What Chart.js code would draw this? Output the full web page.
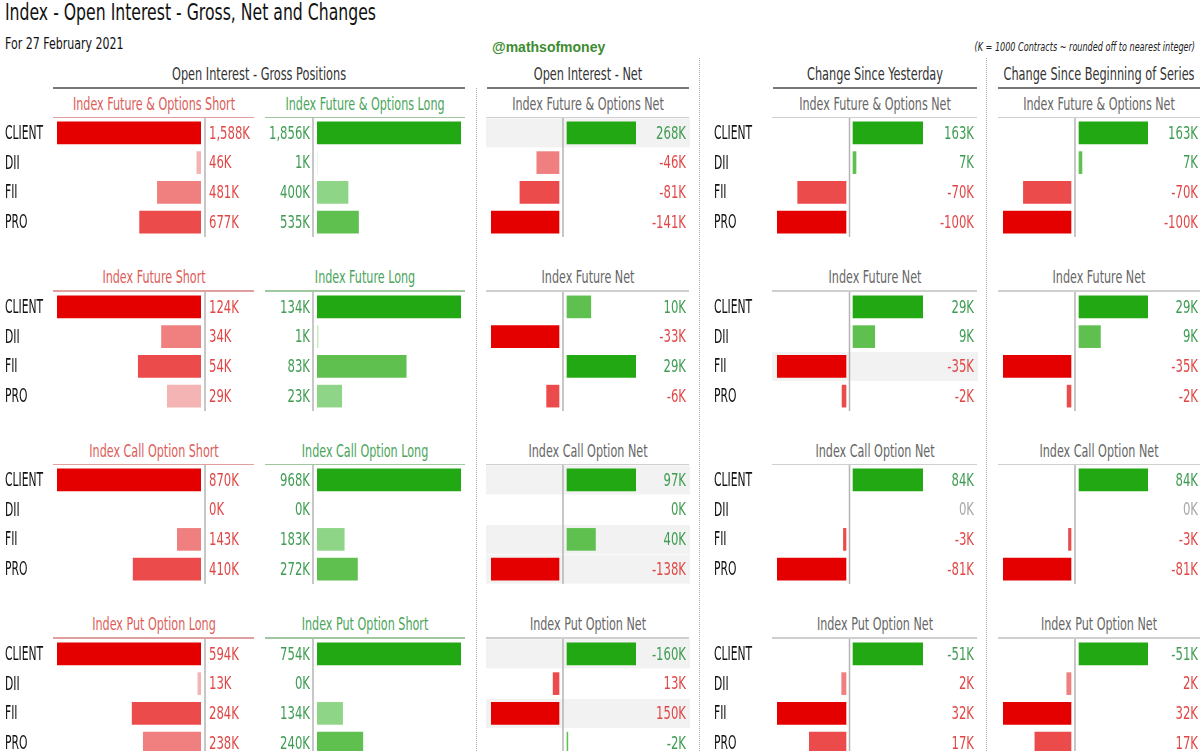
<!DOCTYPE html>
<html>
<head>
<meta charset="utf-8">
<script src="https://cdn.jsdelivr.net/npm/chart.js@4.4.1/dist/chart.umd.min.js"></script>
<style>
  body { margin: 0; width: 1200px; height: 751px; overflow: hidden; position: relative; background: #fff;
         font-family: "Liberation Sans Narrow", "DejaVu Sans Condensed", sans-serif; }
  .txt { position: absolute; white-space: nowrap; transform-origin: 0 0; }
  .ln { position: absolute; }
  canvas { position: absolute; }
</style>
</head>
<body>
<script>
const categories = ["CLIENT", "DII", "FII", "PRO"];

// gross positions (thousand contracts)
const foShort = [1588, 46, 481, 677];
const foLong = [1856, 1, 400, 535];
const futShort = [124, 34, 54, 29];
const futLong = [134, 1, 83, 23];
const callShort = [870, 0, 143, 410];
const callLong = [968, 0, 183, 272];
const putLong = [594, 13, 284, 238];
const putShort = [754, 0, 134, 240];

// net positions
const foNet = [268, -46, -81, -141];
const futNet = [10, -33, 29, -6];
const callNet = [97, 0, 40, -138];
const putNet = [-160, 13, 150, -2];

// change since yesterday
const foChgDay = [163, 7, -70, -100];
const futChgDay = [29, 9, -35, -2];
const callChgDay = [84, 0, -3, -81];
const putChgDay = [-51, 2, 32, 17];

// change since beginning of series
const foChgSeries = [163, 7, -70, -100];
const futChgSeries = [29, 9, -35, -2];
const callChgSeries = [84, 0, -3, -81];
const putChgSeries = [-51, 2, 32, 17];

const bearTitles = ["Index Future & Options Short", "Index Future Short", "Index Call Option Short", "Index Put Option Long"];
const bullTitles = ["Index Future & Options Long", "Index Future Long", "Index Call Option Long", "Index Put Option Short"];
const netTitles = ["Index Future & Options Net", "Index Future Net", "Index Call Option Net", "Index Put Option Net"];

// rows shaded grey in the reference
const netHighlight = [[0], [], [0, 2, 3], [0, 2]];
const chgDayHighlight = [[], [2], [], []];

const bearGross = [foShort, futShort, callShort, putLong];
const bullGross = [foLong, futLong, callLong, putShort];
const netVals = [foNet, futNet, callNet, putNet];
const chgDayVals = [foChgDay, futChgDay, callChgDay, putChgDay];
const chgSeriesVals = [foChgSeries, futChgSeries, callChgSeries, putChgSeries];
const invertSign = [false, false, false, true]; // put net: negative is bullish

const RED = ["#e50000", "#eb4b4b", "#f08080", "#f5b4b4"];
const GREEN = ["#22a812", "#5fc050", "#8fd587", "#c4eabe"];
const TXT_RED = "#e04848", TXT_GREEN = "#3f9c52", TXT_GRAY = "#a8a8a8";
const FONT = '"Liberation Sans Narrow", "DejaVu Sans Condensed", sans-serif';
const GROUP_DY = 173.5;
const AREA_H = 119;

function text(str, x, y, o) {
  const d = document.createElement("div");
  d.className = "txt";
  d.textContent = str;
  const size = o.size || 17;
  const align = o.align || "center";
  const shift = align === "center" ? "translateX(-50%)" : align === "right" ? "translateX(-100%)" : "";
  d.style.cssText = `left:${x}px;top:${y - 0.49 * size}px;font-size:${size}px;line-height:${size}px;` +
    `color:${o.color || "#333"};transform:scaleX(${o.sx || 0.74}) ${shift};` +
    (o.family ? `font-family:${o.family};` : "") + (o.weight ? `font-weight:${o.weight};` : "") +
    (o.italic ? "font-style:italic;" : "");
  document.body.appendChild(d);
}

function hline(x1, x2, y, color, h) {
  const d = document.createElement("div");
  d.className = "ln";
  d.style.cssText = `left:${x1}px;top:${y}px;width:${x2 - x1}px;height:${h}px;background:${color};`;
  document.body.appendChild(d);
}

function vdots(x, y1, y2) {
  const d = document.createElement("div");
  d.className = "ln";
  d.style.cssText = `left:${x}px;top:${y1}px;height:${y2 - y1}px;border-left:1.5px dotted #aaa;`;
  document.body.appendChild(d);
}

// darkest shade for the largest magnitude, lighter down the ranking
function shades(vals, palette) {
  const out = vals.map(() => "rgba(0,0,0,0)");
  vals.map((v, i) => i)
    .filter(i => vals[i] != null && vals[i] !== 0)
    .sort((a, b) => Math.abs(vals[b]) - Math.abs(vals[a]))
    .forEach((i, r) => { out[i] = palette[Math.min(r, palette.length - 1)]; });
  return out;
}

function fmt(v) {
  return v.toLocaleString("en-US") + "K";
}

function squeezed(ctx, str, x, y, align, sx) {
  ctx.save();
  ctx.translate(x, y);
  ctx.scale(sx, 1);
  ctx.textAlign = align;
  ctx.fillText(str, 0, 0);
  ctx.restore();
}

function decor(spec) {
  return {
    id: "decor",
    beforeDatasetsDraw(chart) {
      const { ctx, scales: { y } } = chart;
      (spec.highlight || []).forEach(i => {
        const yc = y.getPixelForValue(i);
        ctx.fillStyle = "#f2f2f2";
        ctx.fillRect(spec.bandLeft, yc - 14.5, chart.width - spec.bandLeft, 29);
      });
    },
    afterDatasetsDraw(chart) {
      const { ctx, chartArea, scales: { y } } = chart;
      ctx.save();
      ctx.strokeStyle = "#b4b4b4";
      ctx.lineWidth = 1.5;
      ctx.beginPath();
      ctx.moveTo(spec.axisX, chartArea.top);
      ctx.lineTo(spec.axisX, chartArea.bottom);
      ctx.stroke();
      ctx.textBaseline = "middle";
      spec.values.forEach((v, i) => {
        const yc = y.getPixelForValue(i) + 1;
        ctx.font = `18px ${FONT}`;
        ctx.fillStyle = spec.labelColor(v);
        squeezed(ctx, fmt(v), spec.labelX, yc, spec.labelAlign, 0.72);
        if (spec.catX != null) {
          ctx.font = `19px ${FONT}`;
          ctx.fillStyle = "#111";
          squeezed(ctx, categories[i], spec.catX, yc, "left", 0.63);
        }
      });
      ctx.restore();
    }
  };
}

function makeCanvas(left, top, width) {
  const cv = document.createElement("canvas");
  cv.width = width;
  cv.height = AREA_H;
  cv.style.left = left + "px";
  cv.style.top = top + "px";
  cv.style.width = width + "px";
  cv.style.height = AREA_H + "px";
  document.body.appendChild(cv);
  return cv;
}

const baseOptions = (padL, padR) => ({
  indexAxis: "y",
  responsive: false,
  animation: false,
  layout: { padding: { left: padL, right: padR, top: 0, bottom: 0 } },
  plugins: { legend: { display: false }, tooltip: { enabled: false } }
});

// gross panel: one-sided bars, growing left (bear) or right (bull)
function grossPanel(g) {
  const top = 118 + GROUP_DY * g.group;
  const cv = makeCanvas(g.left, top, g.width);
  const vals = g.values.map(v => (v === 0 ? null : v));
  const opts = baseOptions(g.L, g.width - g.R);
  opts.scales = {
    y: { type: "category", display: false, offset: true },
    x: { type: "linear", display: false, min: 0, max: Math.max(...g.values), reverse: g.bear }
  };
  new Chart(cv, {
    type: "bar",
    data: {
      labels: categories,
      datasets: [{ data: vals, backgroundColor: shades(vals, g.bear ? RED : GREEN), barThickness: 22, borderWidth: 0 }]
    },
    options: opts,
    plugins: [decor({
      values: g.values, axisX: g.axisX, labelX: g.labelX, labelAlign: g.bear ? "left" : "right",
      labelColor: () => (g.bear ? TXT_RED : TXT_GREEN), catX: g.catX
    })]
  });
}

// net panel: negatives (bearish) left of the axis, positives right, each side on its own scale
function netPanel(g) {
  const top = 118 + GROUP_DY * g.group;
  const cv = makeCanvas(g.left, top, g.width);
  const s = g.invert ? -1 : 1;
  const rightVals = g.values.map(v => (s * v > 0 ? v : null));
  const leftVals = g.values.map(v => (s * v < 0 ? v : null));
  const maxR = Math.max(1, ...rightVals.map(v => Math.abs(v || 0)));
  const maxL = Math.max(1, ...leftVals.map(v => Math.abs(v || 0)));
  const kR = (g.zr - g.L) / (g.R - g.zr);
  const kL = (g.R - g.zl) / (g.zl - g.L);
  const xR = g.invert ? { min: -maxR, max: maxR * kR, reverse: true } : { min: -maxR * kR, max: maxR };
  const xL = g.invert ? { min: -maxL * kL, max: maxL, reverse: true } : { min: -maxL, max: maxL * kL };
  const opts = baseOptions(g.L, g.width - g.R);
  opts.scales = {
    y: { type: "category", display: false, offset: true },
    xR: Object.assign({ type: "linear", axis: "x", display: false }, xR),
    xL: Object.assign({ type: "linear", axis: "x", display: false }, xL)
  };
  new Chart(cv, {
    type: "bar",
    data: {
      labels: categories,
      datasets: [
        { data: rightVals, xAxisID: "xR", backgroundColor: shades(rightVals, GREEN), barThickness: 22, borderWidth: 0, grouped: false },
        { data: leftVals, xAxisID: "xL", backgroundColor: shades(leftVals, RED), barThickness: 22, borderWidth: 0, grouped: false }
      ]
    },
    options: opts,
    plugins: [decor({
      values: g.values, axisX: g.axisX, labelX: g.labelRight, labelAlign: "right",
      labelColor: v => (v === 0 ? g.zeroColor : s * v > 0 ? TXT_GREEN : TXT_RED),
      catX: g.catX, highlight: g.highlight, bandLeft: g.bandLeft
    })]
  });
}

// header block
text("Index - Open Interest - Gross, Net and Changes", 5, 12.5, { size: 23, color: "#111", align: "left", sx: 0.758 });
text("For 27 February 2021", 5, 44, { size: 16.5, color: "#111", align: "left", sx: 0.743 });
text("@mathsofmoney", 492, 46.5, { size: 14, color: "#3d8c30", weight: "bold", align: "left", family: '"Liberation Sans", Arial, sans-serif', sx: 1.0 });
text("(K = 1000 Contracts ~ rounded off to nearest integer)", 1195, 47, { size: 12, color: "#222", italic: true, align: "right", sx: 0.75 });

text("Open Interest - Gross Positions", 259, 74, { size: 17, color: "#333" });
text("Open Interest - Net", 587.5, 74, { size: 17, color: "#333" });
text("Change Since Yesterday", 874.5, 74, { size: 17, color: "#333" });
text("Change Since Beginning of Series", 1099, 74, { size: 17, color: "#333" });
hline(53, 465, 87, "#777", 1.5);
hline(487, 689, 87, "#777", 1.5);
hline(773, 977, 87, "#777", 1.5);
hline(998, 1200, 87, "#777", 1.5);

vdots(476, 88, 751);
vdots(699, 58, 751);
vdots(986, 58, 751);

for (let g = 0; g < 4; g++) {
  const dy = GROUP_DY * g;
  text(bearTitles[g], 153.5, 104 + dy, { size: 17, color: "#dc5c58", sx: 0.73 });
  text(bullTitles[g], 365, 104 + dy, { size: 17, color: "#4aa55a", sx: 0.73 });
  text(netTitles[g], 587.5, 104 + dy, { size: 17, color: "#666", sx: 0.73 });
  text(netTitles[g], 874.5, 104 + dy, { size: 17, color: "#666", sx: 0.73 });
  text(netTitles[g], 1099, 104 + dy, { size: 17, color: "#666", sx: 0.73 });
  hline(53, 254, 116.5 + dy, "#e0a0a0", 1.5);
  hline(265, 465, 116.5 + dy, "#a0c8a0", 1.5);
  hline(486, 689, 116.5 + dy, "#cfcfcf", 1.5);
  hline(772, 977, 116.5 + dy, "#cfcfcf", 1.5);
  hline(998, 1200, 116.5 + dy, "#cfcfcf", 1.5);

  grossPanel({ group: g, values: bearGross[g], bear: true, left: 0, width: 254, L: 57, R: 201, axisX: 205, labelX: 209, catX: 5 });
  grossPanel({ group: g, values: bullGross[g], bear: false, left: 265, width: 200, L: 52, R: 196, axisX: 48, labelX: 45 });

  netPanel({ group: g, values: netVals[g], invert: invertSign[g], left: 486, width: 204, L: 5, R: 150, zl: 73, zr: 81, axisX: 77,
             labelRight: 200, bandLeft: 0, highlight: netHighlight[g], zeroColor: TXT_GREEN });
  netPanel({ group: g, values: chgDayVals[g], invert: invertSign[g], left: 705, width: 273, L: 72, R: 218, zl: 141, zr: 148, axisX: 144.5,
             labelRight: 269, bandLeft: 67, highlight: chgDayHighlight[g], zeroColor: TXT_GRAY, catX: 9 });
  netPanel({ group: g, values: chgSeriesVals[g], invert: invertSign[g], left: 998, width: 202, L: 5, R: 150, zl: 73, zr: 81, axisX: 77,
             labelRight: 200, bandLeft: 0, highlight: [], zeroColor: TXT_GRAY });
}
</script>
</body>
</html>
